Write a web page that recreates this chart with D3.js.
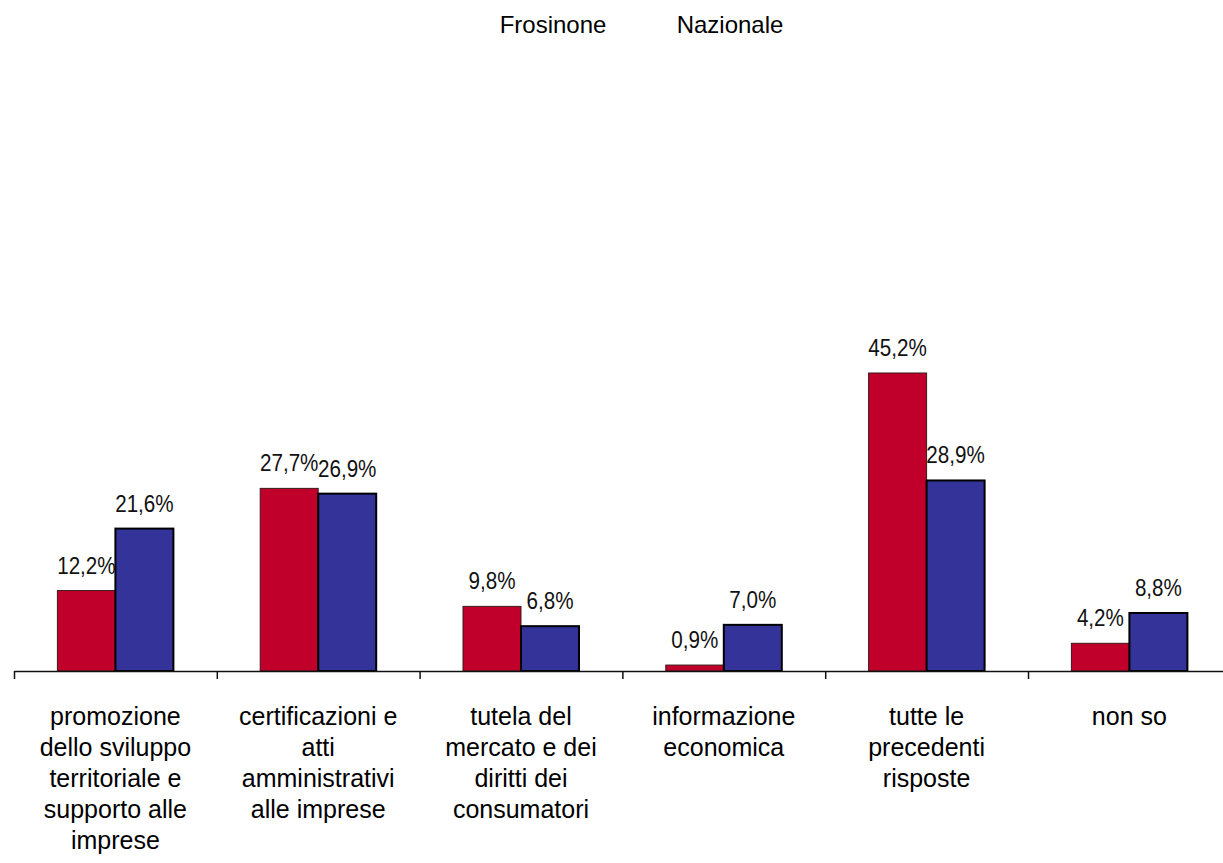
<!DOCTYPE html>
<html>
<head>
<meta charset="utf-8">
<script src="https://cdn.jsdelivr.net/npm/d3@7"></script>
<style>
  html, body { margin: 0; padding: 0; background: #fff; }
  svg { display: block; }
</style>
</head>
<body>
<svg id="chart" width="1223" height="863"></svg>
<script>
const categories = [
  ["promozione", "dello sviluppo", "territoriale e", "supporto alle", "imprese"],
  ["certificazioni e", "atti", "amministrativi", "alle imprese"],
  ["tutela del", "mercato e dei", "diritti dei", "consumatori"],
  ["informazione", "economica"],
  ["tutte le", "precedenti", "risposte"],
  ["non so"]
];
const seriesNames = ["Frosinone", "Nazionale"];
const frosinone = [12.2, 27.7, 9.8, 0.9, 45.2, 4.2];
const nazionale = [21.6, 26.9, 6.8, 7.0, 28.9, 8.8];
const colors = ["#C0002A", "#333399"];

const svg = d3.select("#chart");
const baseY = 671;
const left = 14, right = 1230.8;
const idx = categories.map((d, i) => i);

const x0 = d3.scaleBand().domain(idx).range([left, right])
  .paddingInner(0.428).paddingOuter(0.214);
const x1 = d3.scaleBand().domain([0, 1]).range([0, x0.bandwidth()]);
const y = d3.scaleLinear().domain([0, 45.2]).range([baseY, 373]);

const data = idx.map(i => ({ i, vals: [frosinone[i], nazionale[i]] }));

const g = svg.append("g");
const groups = g.selectAll("g.cat").data(data).enter().append("g")
  .attr("transform", d => `translate(${x0(d.i)},0)`);

groups.selectAll("rect").data(d => d.vals.map((v, s) => ({ v, s })))
  .enter().append("rect")
  .attr("x", d => x1(d.s))
  .attr("width", x1.bandwidth())
  .attr("y", d => y(d.v))
  .attr("height", d => baseY - y(d.v))
  .attr("fill", d => colors[d.s])
  .attr("stroke", d => d.s === 0 ? "#3a1a1a" : "#000")
  .attr("stroke-width", d => d.s === 0 ? 1 : 2);

const fmt = v => v.toFixed(1).replace(".", ",") + "%";
groups.selectAll("text.val").data(d => d.vals.map((v, s) => ({ v, s })))
  .enter().append("text")
  .attr("class", "val")
  .attr("transform", d => `translate(${x1(d.s) + x1.bandwidth() / 2},${y(d.v) - 17}) scale(0.86,1)`)
  .attr("text-anchor", "middle")
  .attr("font-family", "'Liberation Sans Narrow', 'Arial Narrow', 'Liberation Sans', sans-serif")
  .attr("font-size", 24)
  .attr("fill", "#111")
  .text(d => fmt(d.v));

// axis
const tickScale = d3.scaleLinear().domain([0, categories.length]).range([left, right]);
const axis = d3.axisBottom(tickScale).tickValues(d3.range(0, categories.length + 1))
  .tickSize(8).tickSizeOuter(0).tickFormat("");
const ax = svg.append("g").attr("transform", `translate(0,${baseY})`).call(axis);
ax.select(".domain").attr("stroke", "#111").attr("stroke-width", 1.5);
ax.selectAll(".tick line").attr("stroke", "#111").attr("stroke-width", 1.5);

// category labels
const labG = svg.append("g")
  .attr("font-family", "'Liberation Sans', Arial, sans-serif")
  .attr("font-size", 25)
  .attr("fill", "#000");
idx.forEach(i => {
  const cx = x0(i) + x0.bandwidth() / 2;
  const t = labG.append("text").attr("text-anchor", "middle");
  categories[i].forEach((line, k) => {
    t.append("tspan").attr("x", cx).attr("y", 725 + k * 31).text(line);
  });
});

// legend
const legX = d3.scaleOrdinal().domain(seriesNames).range([553, 730]);
svg.append("g").selectAll("text").data(seriesNames).enter().append("text")
  .attr("x", d => legX(d)).attr("y", 33)
  .attr("text-anchor", "middle")
  .attr("font-family", "'Liberation Sans', Arial, sans-serif")
  .attr("font-size", 24)
  .attr("fill", "#000")
  .text(d => d);
</script>
</body>
</html>
